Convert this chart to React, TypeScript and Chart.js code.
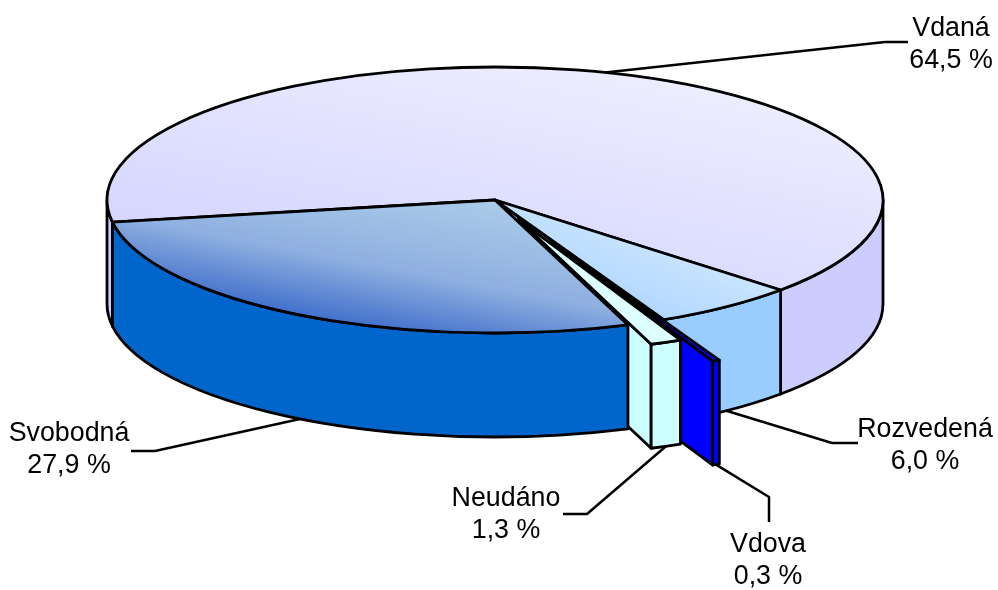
import React, { useEffect, useRef } from "react";
import { Chart, registerables } from "chart.js";

Chart.register(...registerables);

const categories = ["Vdaná", "Rozvedená", "Vdova", "Neudáno", "Svobodná"];
const shares = [64.5, 6.0, 0.3, 1.3, 27.9];
const shareLabels = ["64,5 %", "6,0 %", "0,3 %", "1,3 %", "27,9 %"];
const explode = [0, 0, 0.335, 0.157, 0];
const sideColors = ["#CCCCFF", "#99CCFF", "#0000FF", "#CCFFFF", "#0066CC"];
// label layout: text centre (x, first-line y), elbow, leader end
const labelLayout = [
  { tx: 951, ty: 29, elbow: [885, 42], end: [908, 42], bottom: false },
  { tx: 925, ty: 430, elbow: [832, 443], end: [858, 443], bottom: true },
  { tx: 768, ty: 545, elbow: [769, 497], end: [769, 522], bottom: true },
  { tx: 506, ty: 499, elbow: [587, 514], end: [563, 514], bottom: true },
  { tx: 69, ty: 434, elbow: [155, 451], end: [131, 451], bottom: true },
];

const RADIUS = 388;
const SQUASH = 133 / 388;
const DEPTH = 104;
const LINE = 2.8;
const CX = 495;
const CY = 200;

function frontRanges(a0: number, a1: number) {
  const out: [number, number][] = [];
  for (let m = -1; m < 3; m++) {
    const s = Math.max(a0, 2 * Math.PI * m);
    const e = Math.min(a1, 2 * Math.PI * m + Math.PI);
    if (e > s) out.push([s, e]);
  }
  return out;
}

const pie3d = {
  id: "pie3d",
  beforeDatasetDraw(chart: any) {
    const ctx = chart.ctx as CanvasRenderingContext2D;
    const arcs = chart.getDatasetMeta(0).data as any[];
    ctx.save();
    ctx.lineWidth = LINE;
    ctx.strokeStyle = "#000";
    ctx.lineJoin = "round";

    const geom = arcs.map((arc, i) => {
      const mid = (arc.startAngle + arc.endAngle) / 2;
      const r = arc.outerRadius;
      return {
        x: arc.x + Math.cos(mid) * explode[i] * r,
        y: arc.y + Math.sin(mid) * explode[i] * r * SQUASH,
        r,
        a0: arc.startAngle,
        a1: arc.endAngle,
      };
    });

    // side walls, back to front
    geom.forEach((g, i) => {
      ctx.fillStyle = sideColors[i];
      const walls: number[] = [];
      if (Math.cos(g.a0) < 0) walls.push(g.a0);
      if (Math.cos(g.a1) > 0) walls.push(g.a1);
      walls.forEach((a) => {
        const px = g.x + Math.cos(a) * g.r;
        const py = g.y + Math.sin(a) * g.r * SQUASH;
        ctx.beginPath();
        ctx.moveTo(g.x, g.y);
        ctx.lineTo(px, py);
        ctx.lineTo(px, py + DEPTH);
        ctx.lineTo(g.x, g.y + DEPTH);
        ctx.closePath();
        ctx.fill();
        ctx.stroke();
      });
      frontRanges(g.a0, g.a1).forEach(([s, e]) => {
        ctx.beginPath();
        ctx.ellipse(g.x, g.y, g.r, g.r * SQUASH, 0, s, e);
        ctx.ellipse(g.x, g.y + DEPTH, g.r, g.r * SQUASH, 0, e, s, true);
        ctx.closePath();
        ctx.fill();
        ctx.stroke();
      });
    });

    // top faces, drawn by the library's arc elements
    arcs.forEach((arc, i) => {
      const g = geom[i];
      ctx.save();
      ctx.translate(g.x, g.y);
      ctx.scale(1, SQUASH);
      ctx.translate(-arc.x, -arc.y);
      arc.draw(ctx);
      ctx.restore();
      ctx.beginPath();
      ctx.moveTo(g.x, g.y);
      ctx.ellipse(g.x, g.y, g.r, g.r * SQUASH, 0, g.a0, g.a1);
      ctx.closePath();
      ctx.stroke();
    });

    // leaders and labels
    ctx.font = '26.8px "Liberation Sans", Arial, sans-serif';
    ctx.textAlign = "center";
    ctx.textBaseline = "middle";
    ctx.fillStyle = "#000";
    ctx.lineWidth = 2.5;
    geom.forEach((g, i) => {
      const mid = (g.a0 + g.a1) / 2;
      const l = labelLayout[i];
      const ax = g.x + Math.cos(mid) * g.r;
      const ay = g.y + Math.sin(mid) * g.r * SQUASH + (l.bottom ? DEPTH : 0);
      ctx.beginPath();
      ctx.moveTo(ax, ay);
      ctx.lineTo(l.elbow[0], l.elbow[1]);
      ctx.lineTo(l.end[0], l.end[1]);
      ctx.stroke();
      ctx.fillText(categories[i], l.tx, l.ty);
      ctx.fillText(shareLabels[i], l.tx, l.ty + 32);
    });
    ctx.restore();
    return false;
  },
};

export default function App() {
  const ref = useRef<HTMLCanvasElement>(null);
  useEffect(() => {
    const canvas = ref.current!;
    const c2d = canvas.getContext("2d")!;
    const grad = (x0: number, y0: number, x1: number, y1: number, stops: [number, string][]) => {
      const g = c2d.createLinearGradient(CX + x0, CY + y0, CX + x1, CY + y1);
      stops.forEach(([o, c]) => g.addColorStop(o, c));
      return g;
    };
    const tops = [
      grad(100, -390, -300, 300, [[0, "#EDEDFF"], [1, "#CFCFFF"]]),
      grad(280, 240, 130, 370, [[0, "#CBE5FF"], [1, "#AAD4FF"]]),
      "#0000FF",
      "#DDFFFF",
      grad(0, 0, -184, 336, [[0, "#AACCE9"], [0.58, "#8FB0E0"], [1, "#4472CC"]]),
    ];
    const chart = new Chart(canvas, {
      type: "pie",
      data: {
        labels: categories,
        datasets: [{ data: shares, backgroundColor: tops as any, borderWidth: 0, clip: false as any }],
      },
      plugins: [pie3d as any],
      options: {
        animation: false,
        responsive: false,
        radius: RADIUS,
        rotation: 260.4,
        layout: { padding: { left: 0, top: 0, right: 8, bottom: 190 } },
        plugins: { legend: { display: false }, tooltip: { enabled: false } },
      } as any,
    });
    return () => chart.destroy();
  }, []);
  return (
    <canvas
      ref={ref}
      width={998}
      height={590}
      style={{ position: "fixed", left: 0, top: 0, width: 998, height: 590, background: "#fff" }}
    />
  );
}
